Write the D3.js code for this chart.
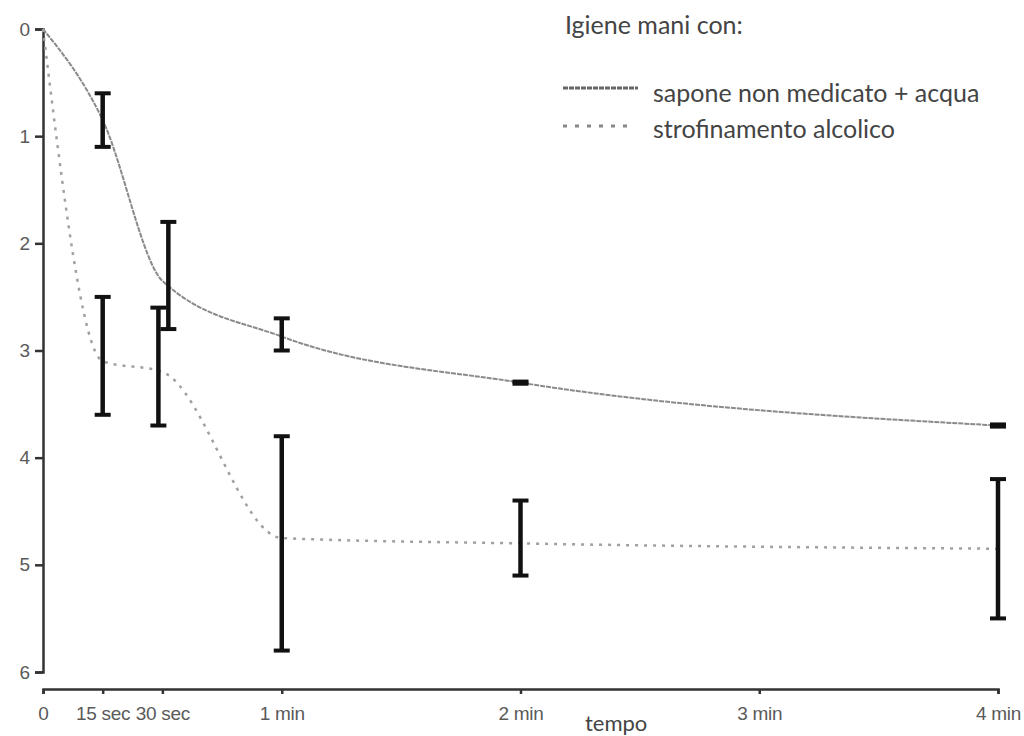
<!DOCTYPE html>
<html>
<head>
<meta charset="utf-8">
<script src="https://cdn.jsdelivr.net/npm/d3@7"></script>
<style>
  body { margin: 0; background: #fff; }
  svg { display: block; }
  .tick text { font-family: "Liberation Sans", Arial, sans-serif; fill: #5a5a5a; }
</style>
</head>
<body>
<div id="chart"></div>
<script>
// values (time in seconds, log reduction)
let tickTimes = [0, 15, 30, 60, 120, 180, 240];
let tickLabels = ['0', '15 sec', '30 sec', '1 min', '2 min', '3 min', '4 min'];
let yTicks = [0, 1, 2, 3, 4, 5, 6];

// mean curves
let soapTimes = [0, 15, 30, 60, 120, 240];
let soapMeans = [0, 0.85, 2.35, 2.87, 3.3, 3.7];
let alcoTimes = [0, 15, 30, 60, 120, 240];
let alcoMeans = [0, 3.1, 3.2, 4.75, 4.8, 4.85];

// error bars (low / high)
let soapBarTimes = [15, 31.5, 60, 120, 240];
let soapLow = [0.6, 1.8, 2.7, 3.29, 3.69];
let soapHigh = [1.1, 2.8, 3.0, 3.31, 3.71];
let alcoBarTimes = [15, 29, 60, 120, 240];
let alcoLow = [2.5, 2.6, 3.8, 4.4, 4.2];
let alcoHigh = [3.6, 3.7, 5.8, 5.1, 5.5];

let legendTitle = 'Igiene mani con:';
let legendLabels = ['sapone non medicato + acqua', 'strofinamento alcolico'];
let xTitle = 'tempo';

let W = 1024, H = 736;

let svg = d3.select('#chart').append('svg')
  .attr('width', W)
  .attr('height', H);

let x = d3.scaleLinear().domain([0, 240]).range([43, 998]);
let y = d3.scaleLinear().domain([0, 6]).range([29, 672]);

// y axis
let yAxis = svg.append('g')
  .attr('transform', 'translate(43,0)')
  .call(d3.axisLeft(y).tickValues(yTicks).tickSize(8).tickPadding(5).tickFormat(d3.format('d')));
yAxis.select('.domain').attr('stroke', '#333').attr('stroke-width', 2.5);
yAxis.selectAll('.tick line').attr('stroke', '#333').attr('stroke-width', 2.5);
yAxis.selectAll('.tick text').attr('font-size', 19);

// x axis
let xAxis = svg.append('g')
  .attr('transform', 'translate(0,689)')
  .call(d3.axisBottom(x).tickValues(tickTimes).tickSize(5).tickPadding(13)
    .tickFormat((d, i) => tickLabels[i]));
xAxis.select('.domain').attr('stroke', '#333').attr('stroke-width', 2.5);
xAxis.selectAll('.tick line').attr('stroke', '#333').attr('stroke-width', 2.5);
xAxis.selectAll('.tick text').attr('font-size', 19).attr('letter-spacing', -0.3);

svg.append('text')
  .attr('x', 585).attr('y', 731)
  .attr('font-family', 'Lato, Open Sans, sans-serif')
  .attr('font-size', 22)
  .attr('fill', '#444')
  .text(xTitle);

let line = d3.line()
  .x(d => x(d[0]))
  .y(d => y(d[1]))
  .curve(d3.curveMonotoneX);

// soap curve
svg.append('path')
  .datum(soapTimes.map((t, i) => [t, soapMeans[i]]))
  .attr('fill', 'none')
  .attr('stroke', '#8a8a8a')
  .attr('stroke-width', 2)
  .attr('stroke-dasharray', '5,1')
  .attr('d', line);

// alcohol curve
svg.append('path')
  .datum(alcoTimes.map((t, i) => [t, alcoMeans[i]]))
  .attr('fill', 'none')
  .attr('stroke', '#a0a0a0')
  .attr('stroke-width', 2.5)
  .attr('stroke-dasharray', '3,6')
  .attr('d', line);

// error bars
function bars(times, low, high) {
  let data = times.map((t, i) => ({ t: t, lo: low[i], hi: high[i] }));
  let g = svg.append('g').attr('stroke', '#111');
  g.selectAll('.v').data(data).enter().append('line')
    .attr('stroke-width', 4.5)
    .attr('x1', d => x(d.t)).attr('x2', d => x(d.t))
    .attr('y1', d => y(d.lo)).attr('y2', d => y(d.hi));
  g.selectAll('.c1').data(data).enter().append('line')
    .attr('stroke-width', 4)
    .attr('x1', d => x(d.t) - 8).attr('x2', d => x(d.t) + 8)
    .attr('y1', d => y(d.lo)).attr('y2', d => y(d.lo));
  g.selectAll('.c2').data(data).enter().append('line')
    .attr('stroke-width', 4)
    .attr('x1', d => x(d.t) - 8).attr('x2', d => x(d.t) + 8)
    .attr('y1', d => y(d.hi)).attr('y2', d => y(d.hi));
}
bars(soapBarTimes, soapLow, soapHigh);
bars(alcoBarTimes, alcoLow, alcoHigh);

// legend
let leg = svg.append('g')
  .attr('font-family', 'Lato, Open Sans, sans-serif')
  .attr('fill', '#444');
leg.append('text').attr('x', 565).attr('y', 34).attr('font-size', 25).text(legendTitle);

leg.append('line')
  .attr('x1', 563).attr('x2', 638).attr('y1', 88).attr('y2', 88)
  .attr('stroke', '#666').attr('stroke-width', 3).attr('stroke-dasharray', '5,1');
leg.append('line')
  .attr('x1', 563).attr('x2', 635).attr('y1', 126).attr('y2', 126)
  .attr('stroke', '#888').attr('stroke-width', 3).attr('stroke-dasharray', '4,8');
leg.append('text').attr('x', 653).attr('y', 102).attr('font-size', 25).text(legendLabels[0]);
leg.append('text').attr('x', 653).attr('y', 138).attr('font-size', 25).text(legendLabels[1]);
</script>
</body>
</html>
